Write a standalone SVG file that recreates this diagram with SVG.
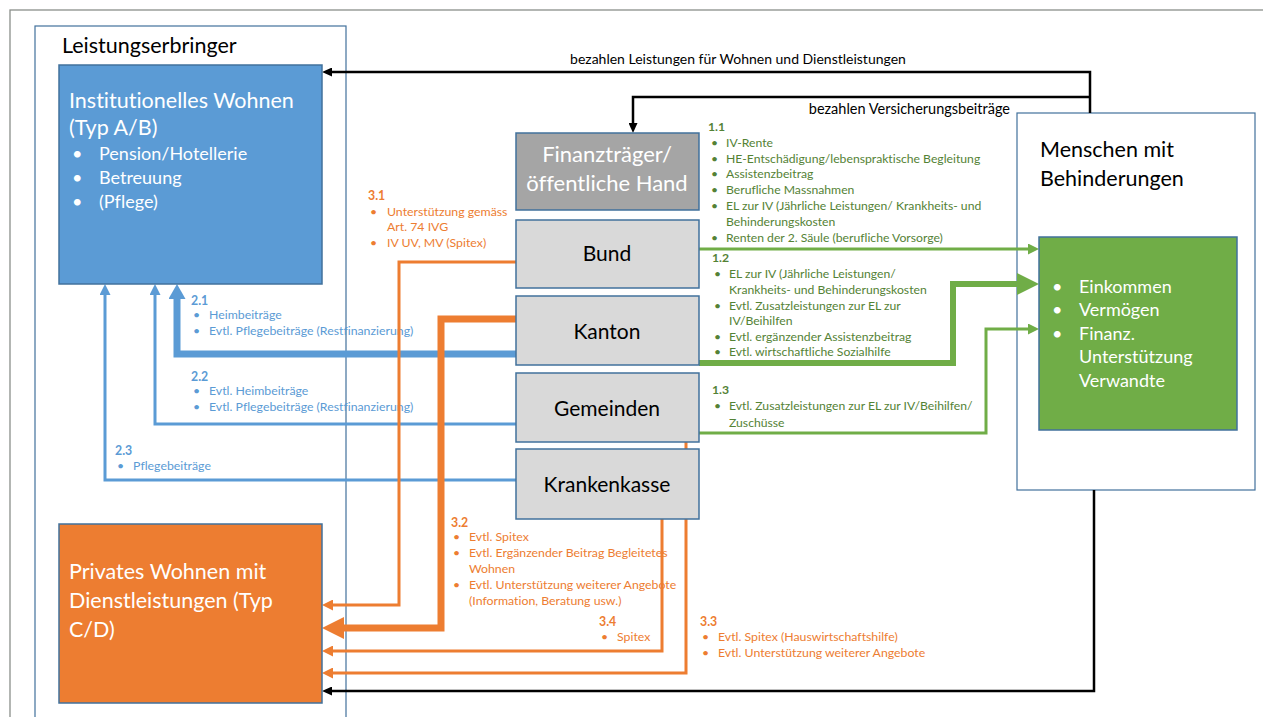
<svg xmlns="http://www.w3.org/2000/svg" width="1263" height="717" viewBox="0 0 1263 717">
<defs>
<style>
text{font-family:Lato,"Liberation Sans",sans-serif;font-variant-ligatures:none;font-feature-settings:"liga" 0,"clig" 0}
.lbl{font-size:12.3px}
.g{fill:#548235}.b{fill:#5b9bd5}.o{fill:#ed7d31}.k{fill:#000}.w{fill:#fff}
.h{font-weight:bold}
.big{font-size:21.5px}
.mid{font-size:18px}
.node{font-size:21px;text-anchor:middle}
.frame{fill:none;stroke:#41719c;stroke-width:1.2}
.nb{stroke:#41719c;stroke-width:1.5}
.c{fill:none;stroke-linejoin:miter}
.ck{stroke:#000;stroke-width:2.5}
.cg{stroke:#70ad47}.cb{stroke:#5b9bd5}.co{stroke:#ed7d31}
.t3{stroke-width:3}.t7{stroke-width:7}
</style>
<marker id="aK" viewBox="0 0 10 10" preserveAspectRatio="none" refX="0" refY="5" markerUnits="userSpaceOnUse" markerWidth="10" markerHeight="9" orient="auto"><path d="M0,0L10,5L0,10z" fill="#000"/></marker>
<marker id="aG" viewBox="0 0 10 10" preserveAspectRatio="none" refX="0" refY="5" markerUnits="userSpaceOnUse" markerWidth="11" markerHeight="11" orient="auto"><path d="M0,0L10,5L0,10z" fill="#70ad47"/></marker>
<marker id="aGL" viewBox="0 0 10 10" preserveAspectRatio="none" refX="0" refY="5" markerUnits="userSpaceOnUse" markerWidth="22" markerHeight="22" orient="auto"><path d="M0,0L10,5L0,10z" fill="#70ad47"/></marker>
<marker id="aB" viewBox="0 0 10 10" preserveAspectRatio="none" refX="0" refY="5" markerUnits="userSpaceOnUse" markerWidth="11" markerHeight="11" orient="auto"><path d="M0,0L10,5L0,10z" fill="#5b9bd5"/></marker>
<marker id="aBL" viewBox="0 0 10 10" preserveAspectRatio="none" refX="0" refY="5" markerUnits="userSpaceOnUse" markerWidth="15" markerHeight="17" orient="auto"><path d="M0,0L10,5L0,10z" fill="#5b9bd5"/></marker>
<marker id="aO" viewBox="0 0 10 10" preserveAspectRatio="none" refX="0" refY="5" markerUnits="userSpaceOnUse" markerWidth="11" markerHeight="11" orient="auto"><path d="M0,0L10,5L0,10z" fill="#ed7d31"/></marker>
<marker id="aOL" viewBox="0 0 10 10" preserveAspectRatio="none" refX="0" refY="5" markerUnits="userSpaceOnUse" markerWidth="22" markerHeight="22" orient="auto"><path d="M0,0L10,5L0,10z" fill="#ed7d31"/></marker>
</defs>
<rect width="1263" height="717" fill="#fff"/>
<rect x="10" y="10" width="1300" height="800" fill="none" stroke="#8a8f8a" stroke-width="1.3"/>

<g id="leistungserbringer">
<rect class="frame" x="35" y="26" width="311" height="720" fill="none"/>
<text class="big k" x="62" y="53">Leistungserbringer</text>
</g>

<g id="menschen">
<rect x="1017" y="113" width="238" height="377" fill="#fff" stroke="#41719c" stroke-width="1.2"/>
<text class="big k" x="1040" y="157">Menschen mit</text>
<text class="big k" x="1040" y="186">Behinderungen</text>
</g>

<g id="labels">
<text class="k" style="font-size:14px" x="738" y="64" text-anchor="middle">bezahlen Leistungen für Wohnen und Dienstleistungen</text>
<text class="k" style="font-size:14.5px" x="1010" y="114" text-anchor="end">bezahlen Versicherungsbeiträge</text>

<g class="g lbl" style="font-size:12.2px">
<text class="h" x="708" y="131">1.1</text>
<text x="711" y="147">•</text><text x="726" y="147">IV-Rente</text>
<text x="711" y="163">•</text><text x="726" y="163">HE-Entschädigung/lebenspraktische Begleitung</text>
<text x="711" y="178">•</text><text x="726" y="178">Assistenzbeitrag</text>
<text x="711" y="194">•</text><text x="726" y="194">Berufliche Massnahmen</text>
<text x="711" y="210">•</text><text x="726" y="210">EL zur IV (Jährliche Leistungen/ Krankheits- und</text>
<text x="726" y="226">Behinderungskosten</text>
<text x="711" y="242">•</text><text x="726" y="242">Renten der 2. Säule (berufliche Vorsorge)</text>

<text class="h" x="712" y="262">1.2</text>
<text x="714" y="278">•</text><text x="729" y="278">EL zur IV (Jährliche Leistungen/</text>
<text x="729" y="294">Krankheits- und Behinderungskosten</text>
<text x="714" y="310">•</text><text x="729" y="310">Evtl. Zusatzleistungen zur EL zur</text>
<text x="729" y="325">IV/Beihilfen</text>
<text x="714" y="341">•</text><text x="729" y="341">Evtl. ergänzender  Assistenzbeitrag</text>
<text x="714" y="356">•</text><text x="729" y="356">Evtl. wirtschaftliche Sozialhilfe</text>

<text class="h" x="712" y="394">1.3</text>
<text x="714" y="410">•</text><text x="729" y="410">Evtl. Zusatzleistungen zur EL zur  IV/Beihilfen/</text>
<text x="729" y="427">Zuschüsse</text>
</g>

<g class="b lbl">
<text class="h" x="191" y="305">2.1</text>
<text x="193" y="319">•</text><text x="209" y="319">Heimbeiträge</text>
<text x="193" y="335">•</text><text x="209" y="335">Evtl. Pflegebeiträge (Restfinanzierung)</text>
<text class="h" x="191" y="381">2.2</text>
<text x="193" y="395">•</text><text x="209" y="395">Evtl. Heimbeiträge</text>
<text x="193" y="411">•</text><text x="209" y="411">Evtl. Pflegebeiträge (Restfinanzierung)</text>
<text class="h" x="115" y="455">2.3</text>
<text x="117" y="470">•</text><text x="133" y="470">Pflegebeiträge</text>
</g>

<g class="o lbl">
<text class="h" x="368" y="200">3.1</text>
<text x="370" y="216">•</text><text x="387" y="216">Unterstützung gemäss</text>
<text x="387" y="231">Art. 74 IVG</text>
<text x="370" y="247">•</text><text x="387" y="247">IV UV, MV (Spitex)</text>

<text class="h" x="451" y="527">3.2</text>
<text x="453" y="541">•</text><text x="469" y="541">Evtl. Spitex</text>
<text x="453" y="557">•</text><text x="469" y="557">Evtl. Ergänzender Beitrag Begleitetes</text>
<text x="469" y="573">Wohnen</text>
<text x="453" y="589">•</text><text x="469" y="589">Evtl. Unterstützung weiterer Angebote</text>
<text x="469" y="605">(Information, Beratung usw.)</text>

<text class="h" x="599" y="626">3.4</text>
<text x="601" y="641">•</text><text x="617" y="641">Spitex</text>

<text class="h" x="700" y="626">3.3</text>
<text x="702" y="641">•</text><text x="718" y="641">Evtl. Spitex (Hauswirtschaftshilfe)</text>
<text x="702" y="657">•</text><text x="718" y="657">Evtl. Unterstützung weiterer Angebote</text>
</g>
</g>

<g id="connectors">
<path class="c ck" d="M1090,113V72H332" marker-end="url(#aK)"/>
<path class="c ck" d="M1090,97H633V123" marker-end="url(#aK)"/>
<path class="c ck" d="M1094,490V691H332" marker-end="url(#aK)"/>

<path class="c cg t3" d="M699,249H1028" marker-end="url(#aG)"/>
<path class="c cg" stroke-width="6" d="M699,363H953V284H1017" marker-end="url(#aGL)"/>
<path class="c cg t3" d="M699,433H986V329H1028" marker-end="url(#aG)"/>

<path class="c cb t7" d="M516,354H177V299" marker-end="url(#aBL)"/>
<path class="c cb t3" d="M516,424H155V295" marker-end="url(#aB)"/>
<path class="c cb t3" d="M516,480H105V295" marker-end="url(#aB)"/>

<path class="c co t3" d="M516,262H399V605H333" marker-end="url(#aO)"/>
<path class="c co t7" d="M516,319H441V628H344" marker-end="url(#aOL)"/>
<path class="c co t3" d="M662,519V651H333" marker-end="url(#aO)"/>
<path class="c co t3" d="M686,442V673H333" marker-end="url(#aO)"/>
</g>

<g id="institutionelles">
<rect x="59" y="65" width="263" height="219" fill="#5b9bd5" class="nb"/>
<text class="big w" x="69" y="108">Institutionelles Wohnen</text>
<text class="big w" x="69" y="135">(Typ A/B)</text>
<text class="mid w" x="72" y="160">•</text><text class="mid w" x="99" y="160">Pension/Hotellerie</text>
<text class="mid w" x="72" y="184">•</text><text class="mid w" x="99" y="184">Betreuung</text>
<text class="mid w" x="72" y="208">•</text><text class="mid w" x="99" y="208">(Pflege)</text>
</g>

<g id="privates">
<rect x="59" y="524" width="263" height="179" fill="#ed7d31" class="nb"/>
<text class="big w" x="69" y="579">Privates Wohnen mit</text>
<text class="big w" x="69" y="608">Dienstleistungen (Typ</text>
<text class="big w" x="69" y="637">C/D)</text>
</g>

<g id="finanztraeger">
<rect x="516" y="133" width="183" height="77" fill="#a5a5a5" class="nb"/>
<text class="node w" style="font-size:22px" x="607" y="162">Finanzträger/</text>
<text class="node w" style="font-size:22px" x="607" y="191">öffentliche Hand</text>
</g>
<g id="bund">
<rect x="516" y="220" width="183" height="68" fill="#d9d9d9" class="nb"/>
<text class="node k" x="607" y="261">Bund</text>
</g>
<g id="kanton">
<rect x="516" y="296" width="183" height="69" fill="#d9d9d9" class="nb"/>
<text class="node k" x="607" y="339">Kanton</text>
</g>
<g id="gemeinden">
<rect x="516" y="373" width="183" height="69" fill="#d9d9d9" class="nb"/>
<text class="node k" x="607" y="416">Gemeinden</text>
</g>
<g id="krankenkasse">
<rect x="516" y="449" width="183" height="70" fill="#d9d9d9" class="nb"/>
<text class="node k" x="607" y="492">Krankenkasse</text>
</g>

<g id="vermoegen">
<rect x="1039" y="237" width="198" height="193" fill="#70ad47" class="nb"/>
<text class="mid w" x="1052" y="293">•</text><text class="mid w" x="1079" y="293">Einkommen</text>
<text class="mid w" x="1052" y="316">•</text><text class="mid w" x="1079" y="316">Vermögen</text>
<text class="mid w" x="1052" y="340">•</text><text class="mid w" x="1079" y="340">Finanz.</text>
<text class="mid w" x="1079" y="363">Unterstützung</text>
<text class="mid w" x="1079" y="387">Verwandte</text>
</g>
</svg>
